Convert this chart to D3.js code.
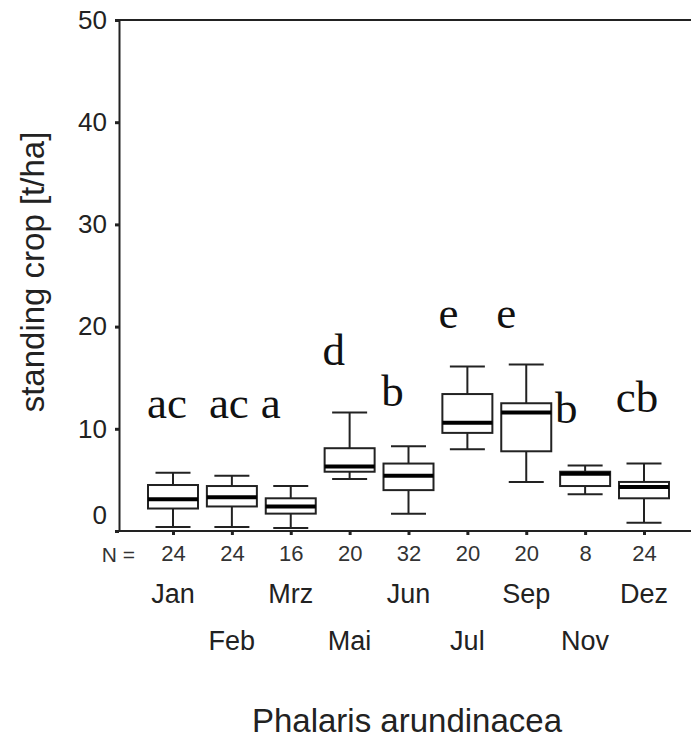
<!DOCTYPE html>
<html>
<head>
<meta charset="utf-8">
<script src="https://cdn.jsdelivr.net/npm/d3@7"></script>
<style>
  body { margin: 0; background: #fff; }
  svg { display: block; }
</style>
</head>
<body>
<div id="chart"></div>
<script>
// box plot data (t/ha)
const months = ["Jan", "Feb", "Mrz", "Mai", "Jun", "Jul", "Sep", "Nov", "Dez"];
const nValues = [24, 24, 16, 20, 32, 20, 20, 8, 24];
const whiskerLow = [0.4, 0.4, 0.3, 5.1, 1.7, 8.0, 4.8, 3.6, 0.8];
const q1 = [2.2, 2.4, 1.7, 5.8, 4.0, 9.6, 7.8, 4.4, 3.2];
const median = [3.1, 3.3, 2.4, 6.3, 5.4, 10.6, 11.6, 5.6, 4.3];
const q3 = [4.5, 4.4, 3.2, 8.1, 6.6, 13.4, 12.5, 5.8, 4.8];
const whiskerHigh = [5.7, 5.4, 4.4, 11.6, 8.3, 16.1, 16.3, 6.4, 6.6];
const yTicks = [0, 10, 20, 30, 40, 50];

// significance letters and the value they sit at
const letters = ["ac", "ac", "a", "d", "b", "e", "e", "b", "cb"];
const letterAt = [11.1, 11.1, 11.1, 16.2, 12.2, 19.9, 19.9, 10.6, 11.6];
const letterShift = [-6, -3, -20, -16, -16, -19, -20, -19, -7];

const width = 691, height = 739;
const plotLeft = 119, plotTop = 20, plotBottom = 531;

const svg = d3.select("#chart").append("svg")
  .attr("width", width)
  .attr("height", height);

const x = d3.scalePoint().domain(months).range([173, 644]);
const y = d3.scaleLinear().domain([0, 50]).range([plotBottom, plotTop]);

const ink = "#222";
const sans = "Arial, 'Liberation Sans', Helvetica, sans-serif";

// frame: top and bottom lines run off the right edge
svg.append("line")
  .attr("x1", plotLeft).attr("x2", width)
  .attr("y1", plotTop).attr("y2", plotTop)
  .attr("stroke", ink).attr("stroke-width", 2);
svg.append("line")
  .attr("x1", plotLeft).attr("x2", width)
  .attr("y1", plotBottom).attr("y2", plotBottom)
  .attr("stroke", ink).attr("stroke-width", 2);

// y axis
const yAxis = svg.append("g")
  .attr("transform", `translate(${plotLeft},0)`)
  .call(d3.axisLeft(y).tickValues(yTicks).tickSize(4).tickSizeOuter(0).tickPadding(8));
yAxis.select(".domain").attr("stroke", ink).attr("stroke-width", 2);
yAxis.selectAll(".tick line").attr("stroke", ink).attr("stroke-width", 3);
yAxis.selectAll(".tick text")
  .attr("font-family", sans)
  .attr("font-size", 26)
  .attr("fill", ink)
  .attr("dy", d => d === 0 ? "-0.3em" : "0.32em");

// x axis: ticks and N row
const xAxis = svg.append("g")
  .attr("transform", `translate(0,${plotBottom})`)
  .call(d3.axisBottom(x).tickSize(4).tickSizeOuter(0).tickPadding(10)
    .tickFormat((d, i) => nValues[i]));
xAxis.select(".domain").remove();
xAxis.selectAll(".tick line").attr("stroke", ink).attr("stroke-width", 3);
xAxis.selectAll(".tick text")
  .attr("font-family", sans)
  .attr("font-size", 22)
  .attr("fill", "#333");

svg.append("text")
  .attr("x", 135).attr("y", 562)
  .attr("text-anchor", "end")
  .attr("font-family", sans)
  .attr("font-size", 21)
  .attr("fill", "#333")
  .text("N =");

// month names on two staggered rows
svg.append("g").selectAll("text")
  .data(months)
  .join("text")
  .attr("x", d => x(d))
  .attr("y", (d, i) => i % 2 === 0 ? 603 : 650)
  .attr("text-anchor", "middle")
  .attr("font-family", sans)
  .attr("font-size", 27)
  .attr("fill", ink)
  .text(d => d);

// axis titles
svg.append("text")
  .attr("transform", `translate(44,272) rotate(-90)`)
  .attr("text-anchor", "middle")
  .attr("font-family", sans)
  .attr("font-size", 33)
  .attr("fill", ink)
  .text("standing crop [t/ha]");

svg.append("text")
  .attr("x", 407).attr("y", 732)
  .attr("text-anchor", "middle")
  .attr("font-family", sans)
  .attr("font-size", 33)
  .attr("fill", ink)
  .text("Phalaris arundinacea");

// boxes
const boxW = 50, capW = 35;
const boxes = svg.append("g").selectAll("g")
  .data(months)
  .join("g")
  .attr("transform", d => `translate(${x(d)},0)`);

boxes.append("line")
  .attr("y1", (d, i) => y(whiskerLow[i]))
  .attr("y2", (d, i) => y(whiskerHigh[i]))
  .attr("stroke", ink).attr("stroke-width", 2);

boxes.append("line")
  .attr("x1", -capW / 2).attr("x2", capW / 2)
  .attr("y1", (d, i) => y(whiskerHigh[i]))
  .attr("y2", (d, i) => y(whiskerHigh[i]))
  .attr("stroke", ink).attr("stroke-width", 2);

boxes.append("line")
  .attr("x1", -capW / 2).attr("x2", capW / 2)
  .attr("y1", (d, i) => y(whiskerLow[i]))
  .attr("y2", (d, i) => y(whiskerLow[i]))
  .attr("stroke", ink).attr("stroke-width", 2);

boxes.append("rect")
  .attr("x", -boxW / 2)
  .attr("width", boxW)
  .attr("y", (d, i) => y(q3[i]))
  .attr("height", (d, i) => y(q1[i]) - y(q3[i]))
  .attr("fill", "#fff")
  .attr("stroke", ink).attr("stroke-width", 2);

boxes.append("line")
  .attr("x1", -boxW / 2).attr("x2", boxW / 2)
  .attr("y1", (d, i) => y(median[i]))
  .attr("y2", (d, i) => y(median[i]))
  .attr("stroke", "#000").attr("stroke-width", 4);

// letters
svg.append("g").selectAll("text")
  .data(months)
  .join("text")
  .attr("x", (d, i) => x(d) + letterShift[i])
  .attr("y", (d, i) => y(letterAt[i]))
  .attr("text-anchor", "middle")
  .attr("font-family", "'Times New Roman', 'Liberation Serif', serif")
  .attr("font-size", 45)
  .attr("fill", "#111")
  .text((d, i) => letters[i]);
</script>
</body>
</html>
